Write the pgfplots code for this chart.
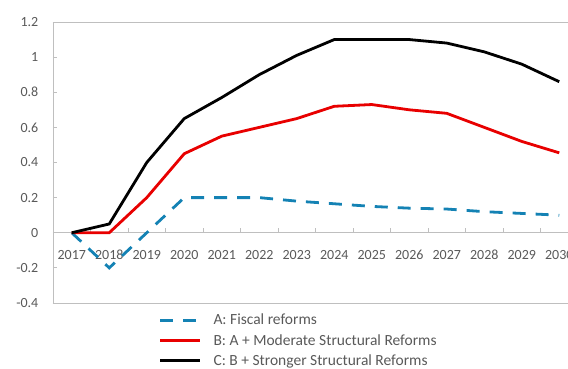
\documentclass[border=0pt]{standalone}
\usepackage{fontspec}
\setmainfont{Carlito}
\usepackage{pgfplots}
\pgfplotsset{compat=1.18}
\definecolor{fiscblue}{RGB}{20,130,180}
\definecolor{refred}{RGB}{232,0,0}
\definecolor{txtgray}{RGB}{89,89,89}
\definecolor{axgray}{RGB}{191,191,191}

\begin{document}
\begin{tikzpicture}
  \begin{axis}[
    name=ax,
    scale only axis,
    width=525pt, height=281pt,
    xmin=-0.5, xmax=13.5,
    ymin=-0.4, ymax=1.2,
    axis x line=middle, axis y line=left,
    every inner x axis line/.append style={-},
    every outer y axis line/.append style={-},
    axis line style={axgray, line width=0.8pt},
    hide obscured x ticks=false, hide obscured y ticks=false,
    xtick={0,...,13},
    xticklabels={2017,2018,2019,2020,2021,2022,2023,2024,2025,2026,2027,2028,2029,2030},
    major x tick style={draw=none},
    minor xtick={0.5,1.5,...,12.5},
    minor tick length=5pt,
    major tick length=4pt,
    xtick align=inside,
    ytick={-0.4,-0.2,0,0.2,0.4,0.6,0.8,1,1.2},
    yticklabels={-0.4,-0.2,0,0.2,0.4,0.6,0.8,1,1.2},
    ytick align=inside,
    tick style={axgray, line width=0.8pt},
    extra y ticks={-0.4,1.2},
    extra y tick labels={},
    extra y tick style={grid=major, major grid style={axgray, line width=0.8pt}},
    ticklabel style={font=\fontsize{14}{16}\selectfont, text=txtgray},
    xticklabel style={anchor=center, text height=9pt, text depth=0pt, yshift=-22pt},
    yticklabel style={xshift=-10pt},
    legend style={at={(0.193,-0.02)}, anchor=north west, draw=none, fill=none,
      font=\fontsize{15.5}{18}\selectfont, text=txtgray, row sep=4pt},
    legend cell align=left,
    legend image code/.code={\draw[#1] (0pt,0pt) -- (40pt,0pt); \path (50pt,0pt);},
    line width=2.8pt,
  ]
    \addplot[fiscblue, dash pattern=on 13pt off 10pt] coordinates {
      (0,0) (1,-0.2) (2,0) (3,0.2) (4,0.2) (5,0.2) (6,0.18) (7,0.165)
      (8,0.15) (9,0.14) (10,0.135) (11,0.12) (12,0.11) (13,0.10)};
    \addlegendentry{A: Fiscal reforms}
    \addplot[refred] coordinates {
      (0,0) (1,0) (2,0.2) (3,0.45) (4,0.55) (5,0.6) (6,0.65) (7,0.72)
      (8,0.73) (9,0.70) (10,0.68) (11,0.60) (12,0.52) (13,0.455)};
    \addlegendentry{B: A + Moderate Structural Reforms}
    \addplot[black] coordinates {
      (0,0) (1,0.05) (2,0.4) (3,0.65) (4,0.77) (5,0.9) (6,1.01) (7,1.1)
      (8,1.1) (9,1.1) (10,1.08) (11,1.03) (12,0.96) (13,0.86)};
    \addlegendentry{C: B + Stronger Structural Reforms}
  \end{axis}
  \pgfresetboundingbox
  \path[use as bounding box] ([xshift=-53pt,yshift=-66pt]ax.south west)
    rectangle ([xshift=515pt,yshift=22pt]ax.north west);
\end{tikzpicture}
\end{document}
